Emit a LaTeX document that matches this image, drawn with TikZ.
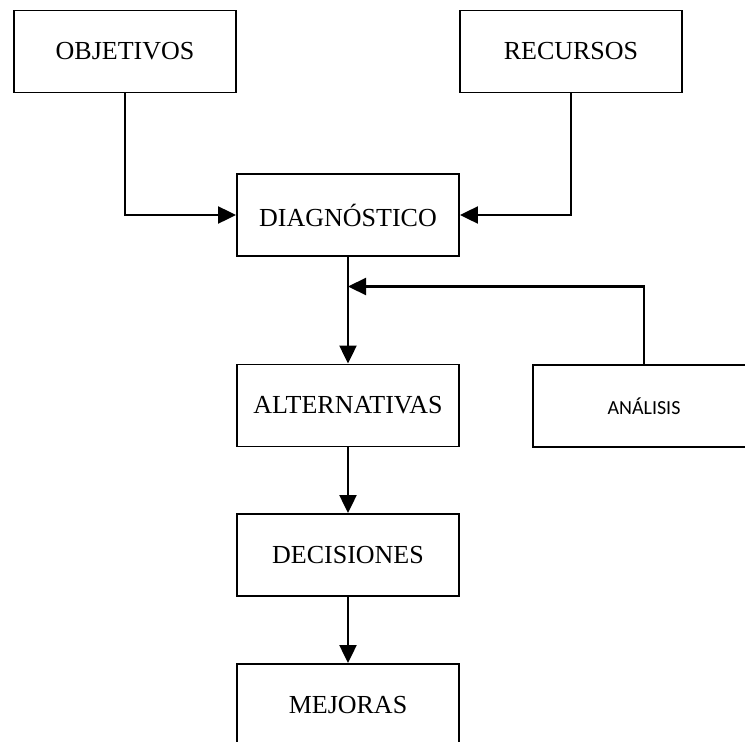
\documentclass[tikz,border=0pt]{standalone}
\usepackage{fontspec}
\setmainfont{Liberation Serif}
\newfontfamily\labelsans{Carlito}
\usetikzlibrary{arrows.meta}
\begin{document}
\begin{tikzpicture}[x=1pt,y=-1pt,
  stagebox/.style={draw, line width=1.9pt, minimum width=222pt, minimum height=82pt,
    inner sep=0pt, font=\fontsize{26}{30}\selectfont},
  sidebox/.style={stagebox, font=\labelsans\fontsize{20}{24}\selectfont},
  flow/.style={line width=2.2pt, -{Triangle[length=18pt,width=17pt]}}]
\clip (0,0) rectangle (745,742);
\fill[white] (0,0) rectangle (745,742);

% inputs
\node[stagebox] (obj) at (125,51.5) {OBJETIVOS};
\node[stagebox] (rec) at (571,51.5) {RECURSOS};

% main chain
\node[stagebox] (diag) at (348,215) {DIAGNÓSTICO};
\node[stagebox] (alt) at (348,405.5) {ALTERNATIVAS};
\node[stagebox] (dec) at (348,555) {DECISIONES};
\node[stagebox] (mej) at (348,705) {MEJORAS};

% feedback
\node[sidebox] (ana) at (644,406) {ANÁLISIS};
\coordinate (join) at (348,286.5);

\draw[flow] (obj.south) |- (diag.west);
\draw[flow] (rec.south) |- (diag.east);
\draw[flow] (diag.south) -- (alt.north);
\draw[flow] (ana.north) |- (join);
\draw[flow] (alt.south) -- (dec.north);
\draw[flow] (dec.south) -- (mej.north);
\end{tikzpicture}
\end{document}
